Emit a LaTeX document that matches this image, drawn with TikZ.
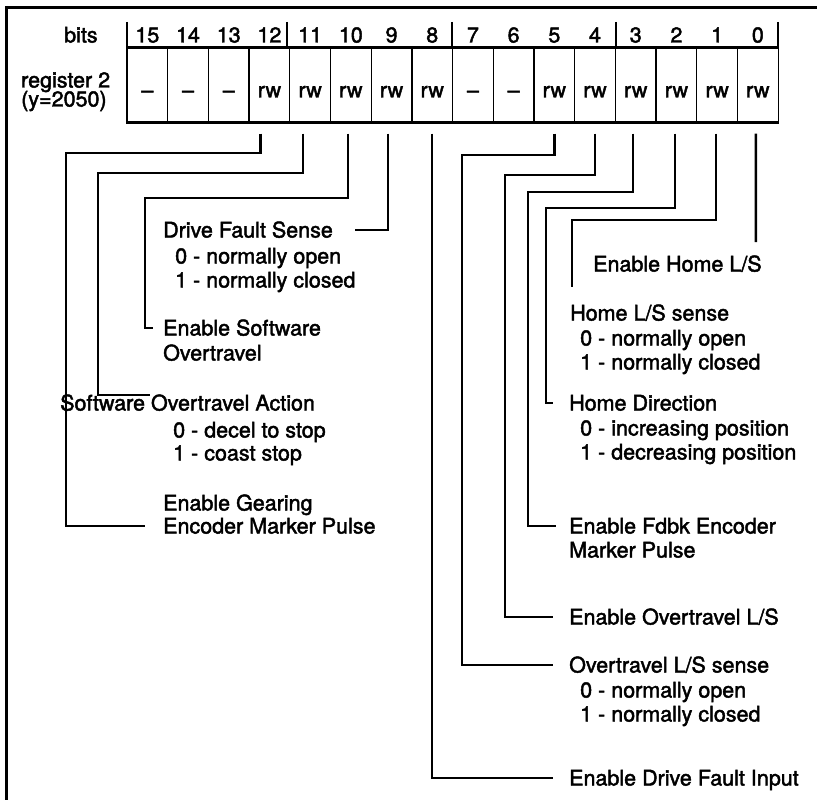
\documentclass[tikz,border=0pt]{standalone}
\usepackage{fontspec}
\newfontfamily\lblfont{TeX Gyre Heros}[FakeBold=2]
\begin{document}
\begin{tikzpicture}[x=1pt,y=-1pt,
  txt/.style={inner sep=0pt, text height=15pt, text depth=0pt, font=\lblfont\fontsize{21.5}{24}\selectfont},
  lab/.style={txt, anchor=west},
  num/.style={txt, anchor=center},
  cell/.style={draw, line width=1.3pt, minimum width=40.7pt, minimum height=74pt, inner sep=0pt,
               text height=25pt, text depth=0pt, font=\lblfont\fontsize{21.5}{24}\selectfont},
  conn/.style={line width=2.3pt, line join=miter},
  sepline/.style={line width=2pt},
  frame/.style={line width=3pt}]
\useasboundingbox (0,0) rectangle (817,800);

% page frame (top and left edges)
\draw[frame] (5,7.3) -- (817,7.3);
\draw[frame] (6.3,5.8) -- (6.3,800);

% register cells and bit numbers
\foreach \b/\t in {15/\textendash,14/\textendash,13/\textendash,12/rw,11/rw,10/rw,9/rw,8/rw,
                   7/\textendash,6/\textendash,5/rw,4/rw,3/rw,2/rw,1/rw,0/rw} {
  \node[cell] (c\b) at ({127+40.7*(15-\b)+20.35},85) {\t};
  \node[num] (h\b) at ({127+40.7*(15-\b)+20.35},35) {\b};
}
\draw[line width=2pt] (c15.north west) -- (c0.north east);
\draw[line width=3pt] (c15.south west) -- (c0.south east);

% nibble separators in the bits row
\foreach \x in {127,287,452,616,778} \draw[sepline] (\x,22) -- (\x,48);

\node[lab] (bitslbl) at (64,35) {bits};
\node[lab] (reglbl) at (21,80) {register 2};
\node[lab] (reglblb) at (21,99) {(y=2050)};

% labels, left column
\node[lab] (l9) at (163,230) {Drive Fault Sense};
\node[lab] (l9a) at (175,256) {0 - normally open};
\node[lab] (l9b) at (175,280) {1 - normally closed};
\node[lab] (l10) at (163,328) {Enable Software};
\node[lab] (l10b) at (163,353) {Overtravel};
\node[lab] (l11) at (60,403) {Software Overtravel Action};
\node[lab] (l11a) at (173,430) {0 - decel to stop};
\node[lab] (l11b) at (173,453) {1 - coast stop};
\node[lab] (l12a) at (163,503) {Enable Gearing};
\node[lab] (l12) at (163,526) {Encoder Marker Pulse};

% labels, right column
\node[lab] (l0) at (593,264) {Enable Home L/S};
\node[lab] (l1) at (570,313) {Home L/S sense};
\node[lab] (l1a) at (580,338) {0 - normally open};
\node[lab] (l1b) at (580,362) {1 - normally closed};
\node[lab] (l2) at (569,403) {Home Direction};
\node[lab] (l2a) at (580,428) {0 - increasing position};
\node[lab] (l2b) at (580,452) {1 - decreasing position};
\node[lab] (l3) at (569,526) {Enable Fdbk Encoder};
\node[lab] (l3b) at (569,550) {Marker Pulse};
\node[lab] (l4) at (569,617) {Enable Overtravel L/S};
\node[lab] (l5) at (569,665) {Overtravel L/S sense};
\node[lab] (l5a) at (580,690) {0 - normally open};
\node[lab] (l5b) at (580,714) {1 - normally closed};
\node[lab] (l8) at (569,778) {Enable Drive Fault Input};

% free connector ends
\coordinate (e11) at (150,395);
\coordinate (e1) at (572,287);
\coordinate (e0) at (755.85,242);

% connectors
\draw[conn] ([xshift=-9pt,yshift=-11pt]c12.south) |- (66,153) |- ([xshift=-18pt]l12.west);
\draw[conn] ([xshift=-7pt,yshift=-11pt]c11.south) |- (98,173) |- (e11);
\draw[conn] ([xshift=-3pt,yshift=-11pt]c10.south) |- (145,198) |- ([xshift=-10pt]l10.west);
\draw[conn] ([xshift=-3.5pt,yshift=-11pt]c9.south) |- ([xshift=22pt]l9.east);
\draw[conn] ([yshift=-11pt]c8.south) |- ([xshift=-16pt]l8.west);
\draw[conn] ([yshift=-11pt]c5.south) |- (462,155) |- ([xshift=-16pt]l5.west);
\draw[conn] ([yshift=-11pt]c4.south) |- (505,175) |- ([xshift=-16pt]l4.west);
\draw[conn] ([xshift=-3pt,yshift=-11pt]c3.south) |- (528,192) |- ([xshift=-13pt]l3.west);
\draw[conn] ([xshift=-1.5pt,yshift=-11pt]c2.south) |- (546,208) |- ([xshift=-16pt]l2.west);
\draw[conn] ([xshift=-1pt,yshift=-11pt]c1.south) |- (572,220) -- (e1);
\draw[conn] ([xshift=-2pt,yshift=-11pt]c0.south) -- (e0);
\end{tikzpicture}
\end{document}
